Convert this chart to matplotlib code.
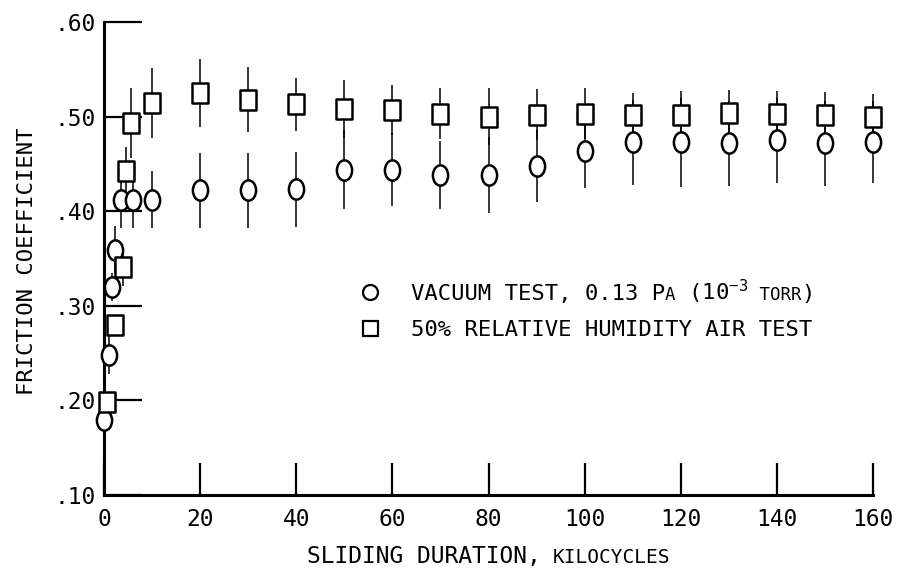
import numpy as np
import matplotlib
matplotlib.use('agg')
import matplotlib.pyplot as plt
from matplotlib.path import Path
from matplotlib.transforms import Affine2D
from matplotlib.lines import Line2D
from matplotlib.offsetbox import TextArea, HPacker, VPacker, DrawingArea, AnnotationBbox

plt.rcParams['font.family'] = ['DejaVu Sans Mono']
plt.rcParams['mathtext.fontset'] = 'custom'
plt.rcParams['mathtext.rm'] = 'DejaVu Sans Mono'
plt.rcParams['mathtext.it'] = 'DejaVu Sans Mono'

# vacuum test, 0.13 Pa (circles)
vac_x = [0, 1, 1.7, 2.3, 3.5, 6, 10, 20, 30, 40, 50, 60, 70, 80, 90, 100, 110, 120, 130, 140, 150, 160]
vac_y = [.179, .248, .320, .359, .412, .412, .412, .422, .422, .423, .444, .444, .438, .438, .448,
         .464, .473, .473, .472, .475, .472, .473]
vac_err = [.005, .02, .015, .025, .03, .03, .03, .04, .04, .04, .042, .039, .036, .04, .038,
           .039, .045, .047, .045, .045, .045, .043]

# 50% relative humidity air test (squares)
air_x = [0.6, 2.3, 4, 4.6, 5.7, 10, 20, 30, 40, 50, 60, 70, 80, 90, 100, 110, 120, 130, 140, 150, 160]
air_y = [.198, .280, .341, .443, .493, .514, .525, .518, .513, .508, .507, .503, .500, .502, .503,
         .502, .502, .504, .503, .502, .500]
air_err = [.005, .01, .02, .025, .037, .037, .036, .034, .028, .031, .026, .027, .03, .027, .027,
           .023, .025, .024, .024, .024, .024]

xticks = [0, 20, 40, 60, 80, 100, 120, 140, 160]
yticks = [.10, .20, .30, .40, .50, .60]
ylabels = ['.10', '.20', '.30', '.40', '.50', '.60']

ellipse = Path.unit_circle().transformed(Affine2D().scale(0.75, 1.0))
rect = Path.unit_rectangle().transformed(Affine2D().translate(-0.5, -0.5).scale(0.8, 1.0))

fig = plt.figure(figsize=(8.99, 5.71), dpi=100)
ax = fig.add_axes([104/899, 76/571, 769/899, 473/571])

for x, y, e, m in [(vac_x, vac_y, vac_err, ellipse), (air_x, air_y, air_err, rect)]:
    ax.errorbar(x, y, yerr=e, fmt='none', ecolor='black', elinewidth=1.1, clip_on=False, zorder=2)
    ax.plot(x, y, ls='none', marker=m, ms=14.6, mfc='white', mec='black', mew=1.8,
            clip_on=False, zorder=3)

ax.set_xlim(0, 160)
ax.set_ylim(.10, .60)
ax.set_xticks(xticks)
ax.set_yticks(yticks)
ax.set_yticklabels(ylabels)
for s in ['top', 'right']:
    ax.spines[s].set_visible(False)
for s in ['left', 'bottom']:
    ax.spines[s].set_linewidth(2.2)
ax.tick_params(axis='y', direction='in', length=27, width=1.6, pad=6, labelsize=16.5)
ax.tick_params(axis='x', direction='in', length=23, width=1.6, pad=9, labelsize=16.5)
for t in ax.get_yticklines() + ax.get_xticklines():
    t.set_zorder(4)

fig.text(27/899, 1 - 261/571, 'FRICTION COEFFICIENT', rotation=90, ha='center', va='center', fontsize=16)

xl = HPacker(children=[TextArea('SLIDING DURATION,', textprops=dict(fontsize=16.5)),
                       TextArea('KILOCYCLES', textprops=dict(fontsize=14))],
             align='baseline', pad=0, sep=9)
ax.add_artist(AnnotationBbox(xl, (0.5, -0.129), xycoords='axes fraction', frameon=False,
                             box_alignment=(0.5, 0.5), annotation_clip=False))


def marker_box(m):
    da = DrawingArea(35, 12)
    da.add_artist(Line2D([6], [6], ls='none', marker=m, ms=10.8, mfc='white', mec='black', mew=1.6))
    return da


row1 = HPacker(children=[marker_box('o'),
                         TextArea('VACUUM TEST, 0.13 P', textprops=dict(fontsize=16)),
                         TextArea('A', textprops=dict(fontsize=12.5)),
                         TextArea(' (10$^{-3}$', textprops=dict(fontsize=16)),
                         TextArea(' TORR', textprops=dict(fontsize=12.5)),
                         TextArea(')', textprops=dict(fontsize=16))],
               align='baseline', pad=0, sep=0)
row2 = HPacker(children=[marker_box('s'),
                         TextArea('50% RELATIVE HUMIDITY AIR TEST', textprops=dict(fontsize=16))],
               align='baseline', pad=0, sep=0)
leg = VPacker(children=[row1, row2], align='left', pad=0, sep=10)
ax.add_artist(AnnotationBbox(leg, (0.3355, 0.393), xycoords='axes fraction', frameon=False,
                             box_alignment=(0, 0.5)))

fig.savefig('out.png', dpi=100)
